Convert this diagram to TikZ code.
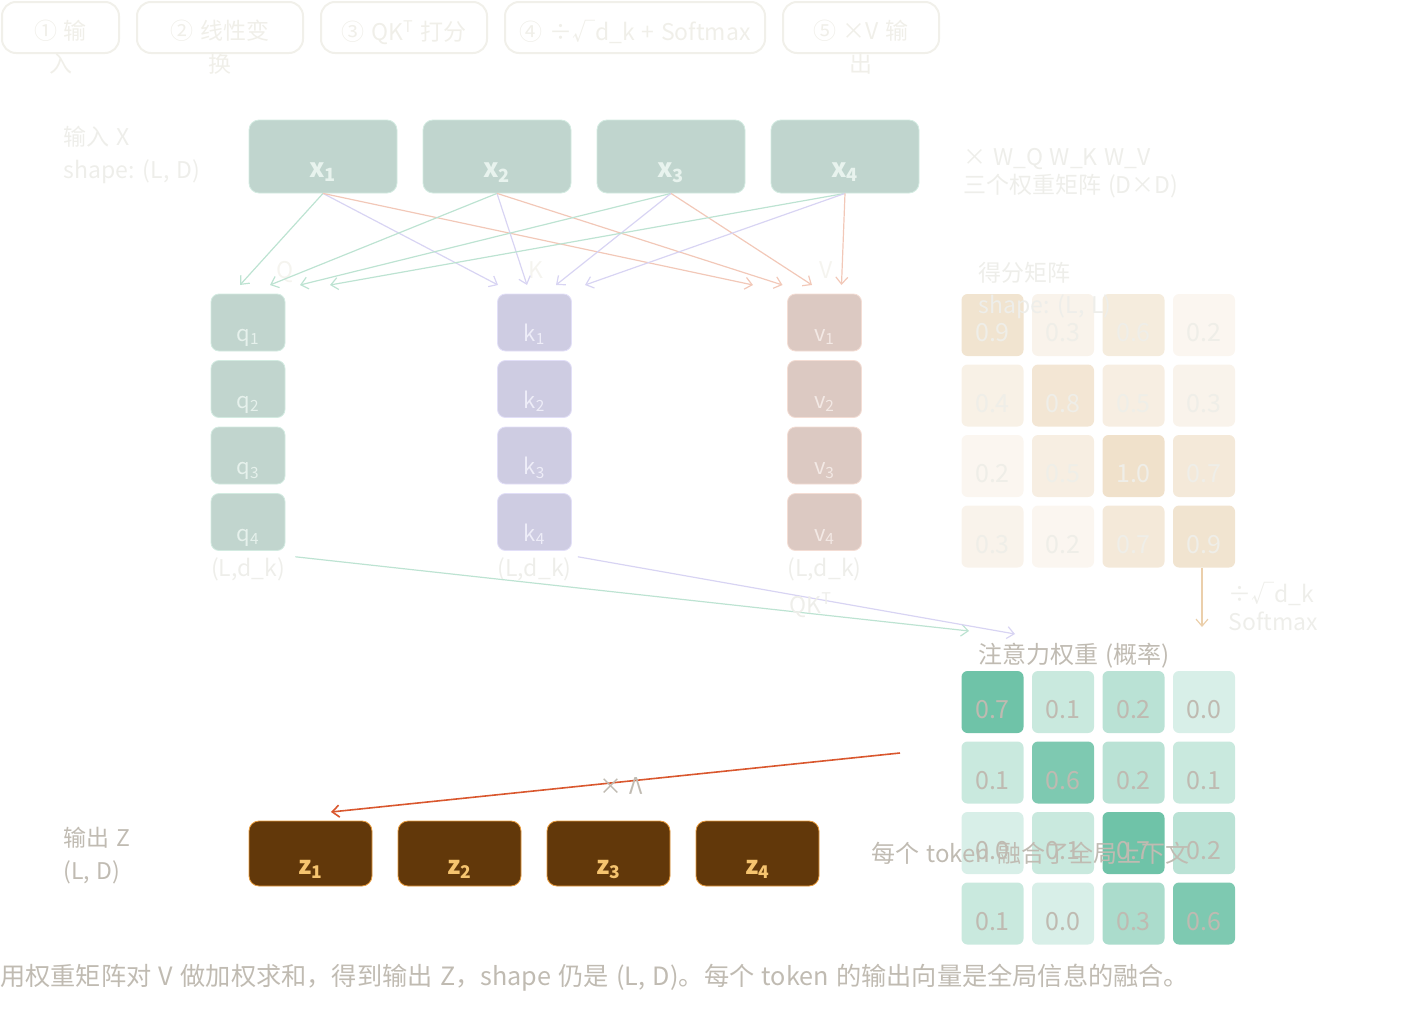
\documentclass[tikz,border=0pt]{standalone}
\usepackage{fontspec}
\setmainfont{Noto Sans CJK SC}[WordSpace=1.3]
\usetikzlibrary{arrows.meta}

\definecolor{tabline}{HTML}{F1F0EA}
\definecolor{tabtext}{HTML}{F0EFE9}
\definecolor{faint}{HTML}{EEEEEA}
\definecolor{faintest}{HTML}{F5F4EF}
\definecolor{grey}{HTML}{C0BBB2}
\definecolor{xfill}{HTML}{C0D5CE}
\definecolor{xline}{HTML}{D3EBE1}
\definecolor{xtext}{HTML}{E8F3EE}
\definecolor{qfill}{HTML}{C1D5CE}
\definecolor{qline}{HTML}{D3EBE1}
\definecolor{qtext}{HTML}{E6F1EC}
\definecolor{kfill}{HTML}{CECCE2}
\definecolor{kline}{HTML}{E2DFF8}
\definecolor{ktext}{HTML}{EEEDF8}
\definecolor{vfill}{HTML}{DCC9C2}
\definecolor{vline}{HTML}{F4DDD4}
\definecolor{vtext}{HTML}{F3E9E5}
\definecolor{qarrow}{HTML}{BDE3D2}
\definecolor{karrow}{HTML}{D8D4F3}
\definecolor{varrow}{HTML}{F2C8B8}
\definecolor{scorefill}{HTML}{F0E1CB}
\definecolor{scoretext}{HTML}{EFEEE8}
\definecolor{softarrow}{HTML}{EBCFAB}
\definecolor{attnfill}{HTML}{6FC3A8}
\definecolor{attntext}{HTML}{BFBAB1}
\definecolor{zfill}{HTML}{62380A}
\definecolor{zline}{HTML}{E89B3C}
\definecolor{ztext}{HTML}{F6C46F}
\definecolor{redarrow}{HTML}{D9572E}

\begin{document}
\begin{tikzpicture}[x=0.5pt, y=-0.5pt,
    lbl/.style={font=\fontsize{11.5}{16.5}\selectfont, inner sep=0pt, anchor=base west},
    tab/.style={draw=tabline, line width=1pt, rounded corners=7pt,
        minimum width=#1, minimum height=25.5pt},
    tabtxt/.style={font=\fontsize{11.5}{16.5}\selectfont, text=tabtext, align=center,
        anchor=north, inner sep=0pt, yshift=-9.5pt},
    xbox/.style={draw=xline, fill=xfill, text=xtext, rounded corners=5pt,
        minimum width=74pt, minimum height=36.5pt, inner sep=0pt,
        text height=20.5pt, text depth=0pt, font=\bfseries\fontsize{13}{13}\selectfont},
    vec/.style={draw=#1line, fill=#1fill, text=#1text, rounded corners=4pt,
        minimum width=37pt, minimum height=28.5pt, inner sep=0pt,
        text height=19pt, text depth=0pt, font=\fontsize{11}{11}\selectfont},
    cell/.style={rounded corners=3pt, minimum size=31pt, inner sep=0pt,
        text height=16.5pt, text depth=0pt, font=\fontsize{12.5}{12.5}\selectfont},
    zbox/.style={draw=zline, fill=zfill, text=ztext, rounded corners=5pt,
        minimum width=61.5pt, minimum height=32.5pt, inner sep=0pt,
        text height=20.5pt, text depth=0pt, font=\bfseries\fontsize{12.5}{12.5}\selectfont},
    link/.style={draw=#1, line width=0.6pt, -{Straight Barb[length=3.5pt, width=6pt]}},
]
    \useasboundingbox (0,0) rectangle (1410,1028);

    % step tabs
    \node[tab=58.5pt] (tab1) at (60.5,27.5) {};
    \node[tabtxt] at (tab1.north) {① 输\\入};
    \node[tab=83pt] (tab2) at (220,27.5) {};
    \node[tabtxt] at (tab2.north) {② 线性变\\换};
    \node[tab=83pt] (tab3) at (404,27.5) {};
    \node[tabtxt] at (tab3.north) {③ QK\textsuperscript{T} 打分};
    \node[tab=130pt] (tab4) at (635,27.5) {};
    \node[tabtxt] at (tab4.north) {④ ÷√d\_k + Softmax};
    \node[tab=78pt] (tab5) at (861,27.5) {};
    \node[tabtxt] at (tab5.north) {⑤ ×V 输\\出};

    % input X
    \node[lbl, text=faint] (inx) at (63,145) {输入 X};
    \node[lbl, text=faint] (inshape) at (63,178) {shape: (L, D)};
    \foreach \i/\px in {1/323, 2/497, 3/671, 4/845}
        \node[xbox] (x\i) at (\px,156.5) {x\textsubscript{\i}};
    \node[lbl, text=faint] (wlbl) at (963,165) {× W\_Q W\_K W\_V};
    \node[lbl, text=faint] (wdim) at (963,193) {三个权重矩阵 (D×D)};

    % Q, K, V columns
    \node[lbl, anchor=base, text=faintest] (qhead) at (285,278) {Q};
    \node[lbl, anchor=base, text=faintest] (khead) at (536,278) {K};
    \node[lbl, anchor=base, text=faintest] (vhead) at (826,278) {V};
    \foreach \i in {1,...,4} {
        \pgfmathsetmacro\py{322.5+66.5*(\i-1)}
        \node[vec=q] (q\i) at (248,\py) {q\textsubscript{\i}};
        \node[vec=k] (k\i) at (534.5,\py) {k\textsubscript{\i}};
        \node[vec=v] (v\i) at (824.5,\py) {v\textsubscript{\i}};
    }
    \node[lbl, anchor=base, text=faint] (qdim) at (248,576) {(L,d\_k)};
    \node[lbl, anchor=base, text=faint] (kdim) at (534.5,576) {(L,d\_k)};
    \node[lbl, anchor=base, text=faint] (vdim) at (824.5,576) {(L,d\_k)};

    \foreach \i in {1,...,4} {
        \coordinate (qin\i) at ({210+30*\i},285);
        \coordinate (kin\i) at ({469+29*\i},285);
        \coordinate (vin\i) at ({723.5+29.5*\i},285);
        \draw[link=qarrow] (x\i.south) -- (qin\i);
        \draw[link=karrow] (x\i.south) -- (kin\i);
        \draw[link=varrow] (x\i.south) -- (vin\i);
    }

    % score matrix
    \node[lbl, text=faint] (slbl) at (978,281) {得分矩阵};
    \foreach \r/\vals in {0/{0.9,0.3,0.6,0.2}, 1/{0.4,0.8,0.5,0.3},
                          2/{0.2,0.5,1.0,0.7}, 3/{0.3,0.2,0.7,0.9}}
        \foreach \v [count=\c from 0] in \vals {
            \pgfmathsetmacro\f{12+88*\v}
            \node[cell, fill=scorefill!\f!white, text=scoretext] (s\r\c)
                at ({992.5+70.5*\c},{325+70.5*\r}) {\v};
        }
    \node[lbl, text=faint] (sshape) at (978,313) {shape: (L, L)};

    \coordinate (soft) at (1202,627);
    \draw[link=softarrow] (s33.south -| soft) -- (soft);
    \node[lbl, text=faint] (div) at (1228,602) {÷√d\_k};
    \node[lbl, text=faint] (smax) at (1228,630) {Softmax};

    % attention weights
    \node[lbl, text=grey, font=\fontsize{12}{12}\selectfont] (albl) at (978,663) {注意力权重 (概率)};
    \foreach \r/\vals in {0/{0.7,0.1,0.2,0.0}, 1/{0.1,0.6,0.2,0.1},
                          2/{0.0,0.1,0.7,0.2}, 3/{0.1,0.0,0.3,0.6}}
        \foreach \v [count=\c from 0] in \vals {
            \pgfmathsetmacro\f{min(100,27+104*\v)}
            \node[cell, fill=attnfill!\f!white, text=attntext] (a\r\c)
                at ({992.5+70.5*\c},{702+70.5*\r}) {\v};
        }

    \coordinate (qkq) at (969,631);
    \coordinate (qkk) at (1015,634);
    \draw[link=qarrow] ([xshift=5pt]qdim.north east) -- (qkq);
    \draw[link=karrow] ([xshift=3pt]kdim.north east) -- (qkk);
    \node[lbl, text=faint] (qk) at (789,613) {QK\textsuperscript{T}};

    % output Z
    \coordinate (vout) at (900,753);
    \coordinate (zin) at (331,812);
    \draw[link=redarrow, line width=0.8pt] (vout) -- (zin);
    \node[font=\fontsize{11.5}{11.5}\selectfont, text=grey, inner sep=0pt, yscale=-1]
        (xv) at (621,786) {× V};
    \foreach \i/\px in {1/310.5, 2/459.5, 3/608.5, 4/757.5}
        \node[zbox] (z\i) at (\px,853.5) {z\textsubscript{\i}};
    \node[lbl, text=grey] (outz) at (63,846) {输出 Z};
    \node[lbl, text=grey] (outshape) at (63,879) {(L, D)};
    \node[lbl, text=grey, font=\fontsize{12}{12}\selectfont] (fuse)
        at (871,862) {每个 token 融合了全局上下文};

    \node[lbl, text=grey, font=\fontsize{12.6}{12.6}\selectfont] (caption)
        at (0,985) {用权重矩阵对 V 做加权求和，得到输出 Z，shape 仍是 (L, D)。每个 token 的输出向量是全局信息的融合。};
\end{tikzpicture}
\end{document}
